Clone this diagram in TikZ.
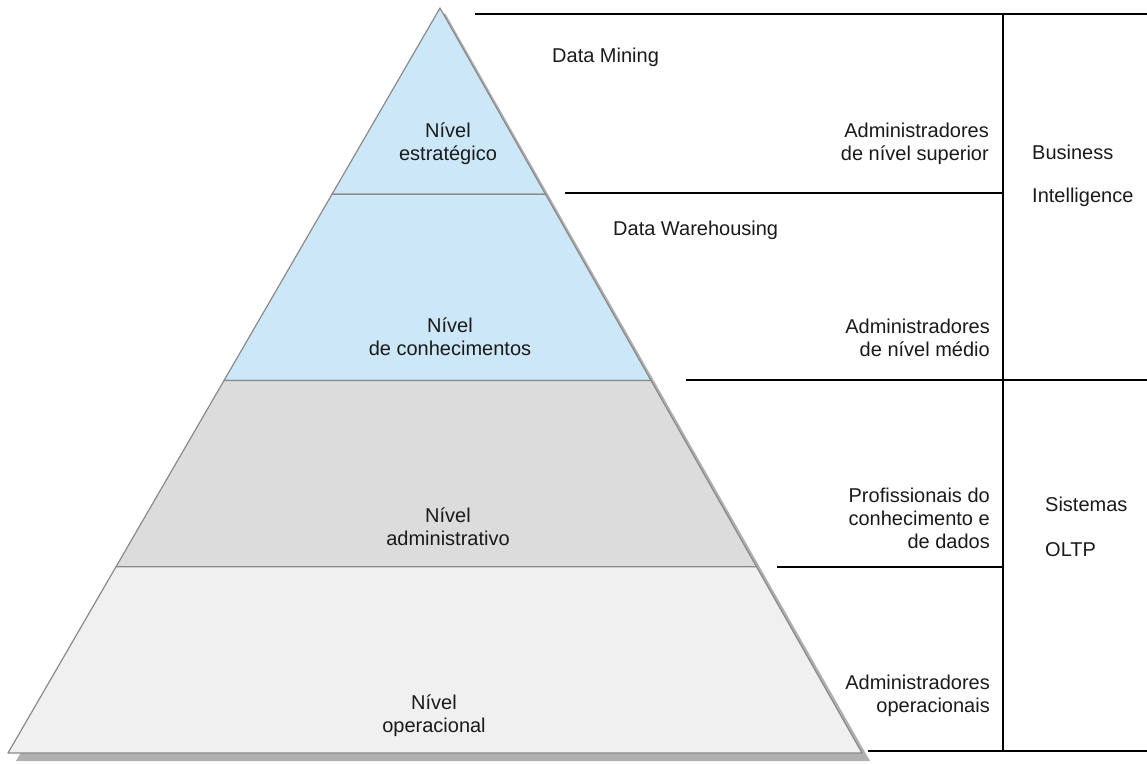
\documentclass[tikz,border=0pt]{standalone}
\usepackage{fontspec}
\setmainfont{Liberation Sans}
\usetikzlibrary{calc}
\definecolor{lvlblue}{HTML}{CCE8F8}
\definecolor{lvlgray}{HTML}{DCDCDC}
\definecolor{lvllight}{HTML}{F0F0F0}
\definecolor{edgegray}{HTML}{8A8A8A}
\definecolor{shadowgray}{HTML}{B0B0B0}
\definecolor{txtcol}{HTML}{1A1A1A}
\begin{document}
\begin{tikzpicture}[x=1pt,y=-1pt,
  txt/.style={inner sep=0pt, font=\fontsize{20}{23}\selectfont, text=txtcol},
  level/.style={draw=edgegray, line width=1.2pt, line join=round},
  rule/.style={draw=black, line width=1.3pt}]
\useasboundingbox (0,0) rectangle (1147,763);
\coordinate (A) at (440,8);
\coordinate (L) at (8,753);
\coordinate (R) at (862,753);
% shadow
\fill[shadowgray] ($(A)+(5,5)$) -- ($(L)+(8,8)$) -- ($(R)+(8,8)$) -- cycle;
% boundaries
\coordinate (L1) at ($(A)!0.25!(L)$); \coordinate (R1) at ($(A)!0.25!(R)$);
\coordinate (L2) at ($(A)!0.5!(L)$);  \coordinate (R2) at ($(A)!0.5!(R)$);
\coordinate (L3) at ($(A)!0.75!(L)$); \coordinate (R3) at ($(A)!0.75!(R)$);
\filldraw[level, fill=lvlblue] (A) -- (L1) -- (R1) -- cycle;
\filldraw[level, fill=lvlblue] (L1) -- (L2) -- (R2) -- (R1) -- cycle;
\filldraw[level, fill=lvlgray] (L2) -- (L3) -- (R3) -- (R2) -- cycle;
\filldraw[level, fill=lvllight] (L3) -- (L) -- (R) -- (R3) -- cycle;
% pyramid labels
\node[txt, align=center] (n1) at (448,144) {Nível\\estratégico};
\node[txt, align=center] (n2) at (450,337) {Nível\\de conhecimentos};
\node[txt, align=center] (n3) at (448,527) {Nível\\administrativo};
\node[txt, align=center] (n4) at (434,716) {Nível\\operacional};
% right rules
\coordinate (h0a) at (475,14);  \coordinate (h0b) at (1147,14);
\coordinate (h1a) at (565,193); \coordinate (h1b) at (1003,193);
\coordinate (h2a) at (686,380); \coordinate (h2b) at (1147,380);
\coordinate (h3a) at (777,567); \coordinate (h3b) at (1003,567);
\coordinate (h4a) at (868,751); \coordinate (h4b) at (1147,751);
\coordinate (vt) at (1003,14);  \coordinate (vb) at (1003,751);
\draw[rule] (h0a) -- (h0b);
\draw[rule] (h1a) -- (h1b);
\draw[rule] (h2a) -- (h2b);
\draw[rule] (h3a) -- (h3b);
\draw[rule] (h4a) -- (h4b);
\draw[rule] (vt) -- (vb);
% right texts
\node[txt, anchor=west] (dm) at (552,57) {Data Mining};
\node[txt, anchor=west] (dw) at (613,230) {Data Warehousing};
\node[txt, anchor=east, align=right] (r1) at (989,144) {Administradores\\de nível superior};
\node[txt, anchor=east, align=right] (r2) at (990,338) {Administradores\\de nível médio};
\node[txt, anchor=east, align=right] (r3) at (990,518) {Profissionais do\\conhecimento e\\de dados};
\node[txt, anchor=east, align=right] (r4) at (990,696) {Administradores\\operacionais};
\node[txt, anchor=west] (bi1) at (1032,152) {Business};
\node[txt, anchor=west] (bi2) at (1032,197) {Intelligence};
\node[txt, anchor=west] (ol1) at (1045,504) {Sistemas};
\node[txt, anchor=west] (ol2) at (1045,550) {OLTP};
\end{tikzpicture}
\end{document}
